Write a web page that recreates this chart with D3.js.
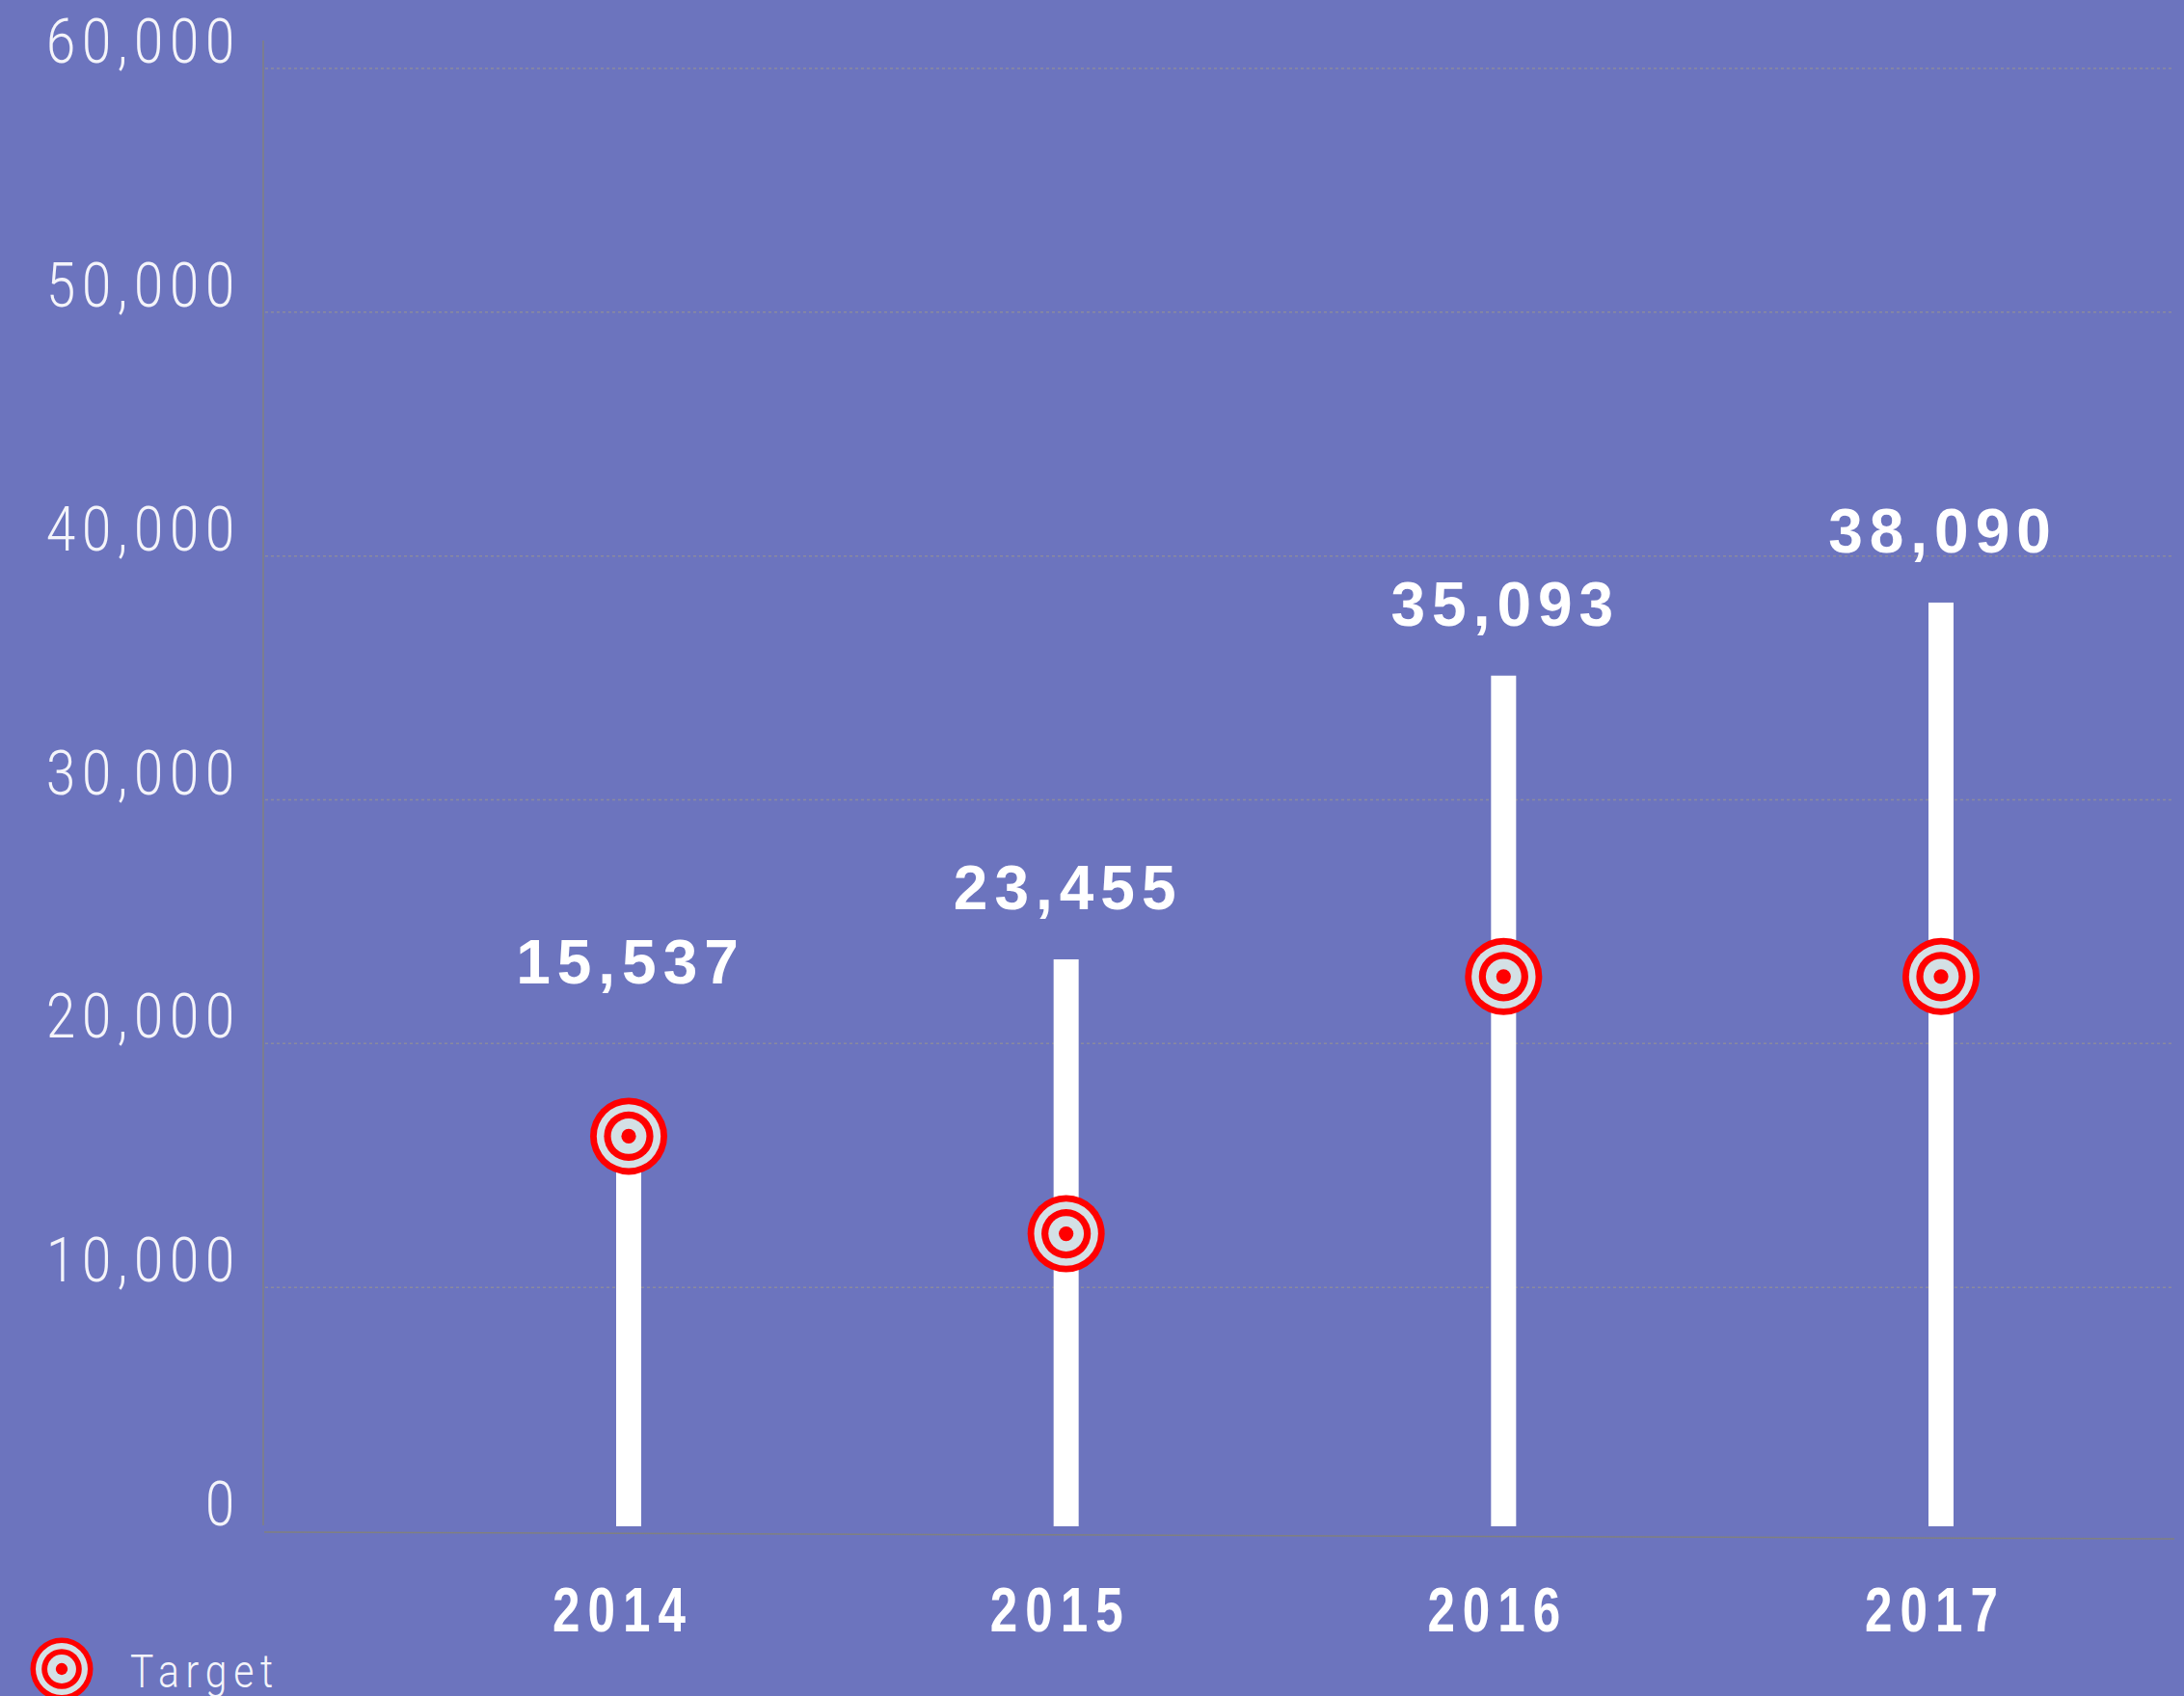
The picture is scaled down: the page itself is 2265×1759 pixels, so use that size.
<!DOCTYPE html>
<html>
<head>
<meta charset="utf-8">
<script src="https://d3js.org/d3.v7.min.js"></script>
<style>
    body { margin: 0; background: #6c74be; overflow: hidden; }
</style>
</head>
<body>
<div id="canvas"></div>
<script>
"use strict"

/* chart data */
let years = ["2014", "2015", "2016", "2017"];
let values = [15537, 23455, 35093, 38090];
let targets = [16200, 12200, 22750, 22750];
let yTicks = [0, 10000, 20000, 30000, 40000, 50000, 60000];
let legendLabels = ["Target"];

let drawing = d3.select("#canvas")
    .append("svg")
    .attr("width", 2265)
    .attr("height", 1759);

/* background */
let background = drawing.append("rect")
    .attr("width", 2265)
    .attr("height", 1759)
    .attr("fill", "#6c74be");

/* scales */
let x = d3.scalePoint()
    .domain(years)
    .range([652, 2013]);

let y = d3.scaleLinear()
    .domain([0, 60000])
    .range([1588, 71]);

let fmt = d3.format(",");

/* dotted gridlines */
let grid = drawing.append("g")
    .selectAll("line")
    .data(yTicks.filter(d => d > 0))
    .join("line")
    .attr("x1", 275)
    .attr("x2", 2255)
    .attr("y1", d => y(d))
    .attr("y2", d => y(d))
    .attr("stroke", "#8a8a9e")
    .attr("stroke-width", 1.5)
    .attr("stroke-dasharray", "3,3");

/* y axis line and the slightly tilted base line */
let yAxisLine = drawing.append("line")
    .attr("x1", 273)
    .attr("y1", 42)
    .attr("x2", 273)
    .attr("y2", 1582)
    .attr("stroke", "#808080")
    .attr("stroke-width", 1.5);

let xAxisLine = drawing.append("line")
    .attr("x1", 274)
    .attr("y1", y(0) + 1)
    .attr("x2", 2255)
    .attr("y2", y(0) + 8)
    .attr("stroke", "#808080")
    .attr("stroke-width", 1.5);

/* y tick labels (thin font, squeezed a bit and spaced out) */
let yLabels = drawing.append("g")
    .selectAll("text")
    .data(yTicks)
    .join("text")
    .attr("transform", d => "translate(250," + (y(d) - 6) + ") scale(0.85,1)")
    .attr("text-anchor", "end")
    .attr("font-family", "Roboto, sans-serif")
    .attr("font-weight", 300)
    .attr("font-size", 64)
    .attr("letter-spacing", 8)
    .attr("fill", "#f4f4fa")
    .text(d => fmt(d));

/* bars (thin white columns) */
let bars = drawing.append("g")
    .selectAll("rect")
    .data(values)
    .join("rect")
    .attr("x", (d, i) => x(years[i]) - 13)
    .attr("y", d => y(d))
    .attr("width", 26)
    .attr("height", d => y(0) - 5 - y(d))
    .attr("fill", "white");

/* value labels, pushed above the target when they would hit it */
let valueLabels = drawing.append("g")
    .selectAll("text")
    .data(values)
    .join("text")
    .attr("x", (d, i) => x(years[i]) + 2)
    .attr("y", (d, i) => Math.min(y(d), y(targets[i]) - 106) - 52)
    .attr("text-anchor", "middle")
    .attr("font-family", "'Liberation Sans', Arial, sans-serif")
    .attr("font-weight", "bold")
    .attr("font-size", 64)
    .attr("letter-spacing", 7)
    .attr("fill", "white")
    .text(d => fmt(d));

/* target markers drawn as rings */
function drawTarget(group, r) {
    let rings = [
        {k: 1.0, c: "#ff0000"},
        {k: 0.83, c: "#d4e0e5"},
        {k: 0.64, c: "#ff0000"},
        {k: 0.46, c: "#d4e0e5"},
        {k: 0.19, c: "#ff0000"}
    ];
    rings.forEach(function (ring) {
        group.append("circle")
            .attr("r", r * ring.k)
            .attr("fill", ring.c);
    });
}

let targetGroups = drawing.append("g")
    .selectAll("g")
    .data(targets)
    .join("g")
    .attr("transform", (d, i) => "translate(" + x(years[i]) + "," + y(d) + ")");

targetGroups.each(function () {
    drawTarget(d3.select(this), 40);
});

/* x axis category labels - squeezed horizontally to look condensed */
let xLabels = drawing.append("g")
    .selectAll("text")
    .data(years)
    .join("text")
    .attr("transform", d => "translate(" + (x(d) - 6) + ",1692) scale(0.8,1)")
    .attr("text-anchor", "middle")
    .attr("font-family", "'Liberation Sans', Arial, sans-serif")
    .attr("font-weight", "bold")
    .attr("font-size", 64)
    .attr("letter-spacing", 10)
    .attr("fill", "white")
    .text(d => d);

/* legend */
let legendIcon = drawing.append("g")
    .attr("transform", "translate(64,1731)");
drawTarget(legendIcon, 32.5);

let legendText = drawing.append("text")
    .attr("transform", "translate(135,1750) scale(0.85,1)")
    .attr("font-family", "Roboto, sans-serif")
    .attr("font-weight", 300)
    .attr("font-size", 48)
    .attr("letter-spacing", 8)
    .attr("fill", "#f4f4fa")
    .text(legendLabels[0]);
</script>
</body>
</html>
